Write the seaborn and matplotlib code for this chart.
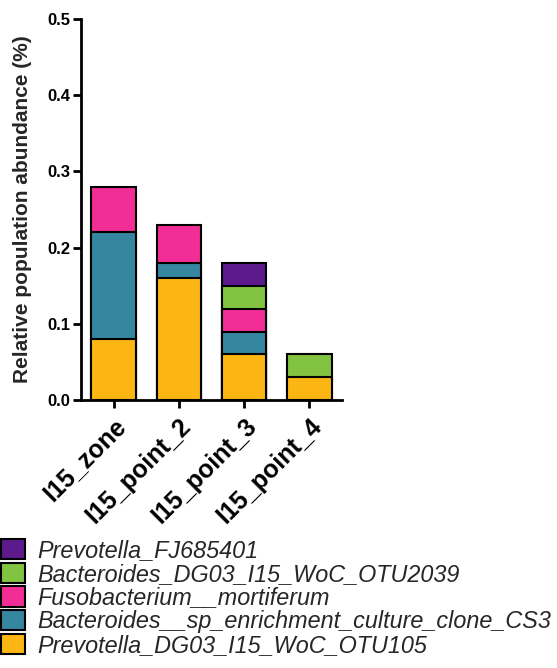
import matplotlib
matplotlib.use("Agg")
import matplotlib.pyplot as plt
import matplotlib.patches as mpatches
import matplotlib.transforms as mtransforms
import numpy as np
import pandas as pd
import seaborn as sns

categories = ["I15_zone", "I15_point_2", "I15_point_3", "I15_point_4"]
# stacking order bottom -> top
series_names = [
    "Prevotella_DG03_I15_WoC_OTU105",
    "Bacteroides__sp_enrichment_culture_clone_CS3",
    "Fusobacterium__mortiferum",
    "Bacteroides_DG03_I15_WoC_OTU2039",
    "Prevotella_FJ685401",
]
prevotella_dg03 = [0.08, 0.16, 0.06, 0.03]
bacteroides_sp = [0.14, 0.02, 0.03, 0.00]
fusobacterium = [0.06, 0.05, 0.03, 0.00]
bacteroides_dg03 = [0.00, 0.00, 0.03, 0.03]
prevotella_fj = [0.00, 0.00, 0.03, 0.00]
colors = ["#fbb614", "#35869f", "#f22e96", "#82c341", "#5c1a8c"]

series_values = [prevotella_dg03, bacteroides_sp, fusobacterium, bacteroides_dg03, prevotella_fj]

sns.set_theme(style="ticks")
plt.rcParams["font.family"] = ["Liberation Sans", "DejaVu Sans"]

fig = plt.figure(figsize=(5.57, 6.68), dpi=100)
ax = fig.add_axes([0.1454, 0.401, 0.4686, 0.5706])

cum = np.cumsum(np.array(series_values), axis=0)
# draw from top (largest cumulative) down so lower layers overlay
for i in range(len(series_names) - 1, -1, -1):
    vals = cum[i].copy()
    layer = np.array(series_values[i])
    df = pd.DataFrame({"cat": categories, "val": vals})
    df.loc[layer <= 0, "val"] = np.nan
    sns.barplot(data=df, x="cat", y="val", color=colors[i], width=0.68,
                edgecolor="black", linewidth=1.5, saturation=1, ax=ax,
                order=categories)

ax.set_xlim(-0.5, 3.5)
ax.set_ylim(0, 0.5)
ax.set_yticks([0.0, 0.1, 0.2, 0.3, 0.4, 0.5])
ax.set_yticklabels(["0.0", "0.1", "0.2", "0.3", "0.4", "0.5"],
                   fontsize=12, fontweight="bold")
ax.set_xticks(range(len(categories)))
ax.set_xticklabels(categories, rotation=45, ha="right", rotation_mode="anchor",
                   fontsize=18, fontweight="bold")
offset = mtransforms.ScaledTranslation(3 / 100, -2 / 100, fig.dpi_scale_trans)
for lbl in ax.get_xticklabels():
    lbl.set_transform(lbl.get_transform() + offset)
ax.set_xlabel("")
ax.set_ylabel("Relative population abundance (%)", fontsize=15, fontweight="bold",
              labelpad=11)
for s in ["top", "right"]:
    ax.spines[s].set_visible(False)
for s in ["left", "bottom"]:
    ax.spines[s].set_linewidth(2)
    ax.spines[s].set_color("black")
ax.tick_params(axis="both", width=2, length=6, color="black", labelcolor="black")
ax.tick_params(axis="x", pad=4)
ax.tick_params(axis="y", pad=2)

handles = [mpatches.Patch(facecolor=colors[i], edgecolor="black", linewidth=1.5,
                          label=series_names[i]) for i in range(len(series_names) - 1, -1, -1)]
leg = fig.legend(handles=handles, loc="upper left", bbox_to_anchor=(-0.002, 1 - 537 / 668),
                 frameon=False, prop={"style": "italic", "size": 16.8},
                 handlelength=1.0, handleheight=0.95, handletextpad=0.55,
                 labelspacing=0.02, borderaxespad=0, borderpad=0.1)

fig.savefig("out.png", dpi=100)
